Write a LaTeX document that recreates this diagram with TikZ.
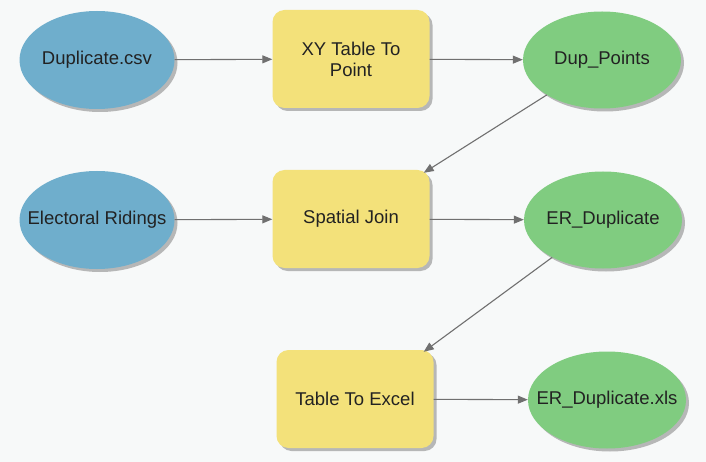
\documentclass[tikz,border=0pt]{standalone}
\usepackage{fontspec}
\setmainfont{Liberation Sans}
\usetikzlibrary{shadows,calc,arrows.meta,shapes.geometric}
\definecolor{bg}{HTML}{F7F9F9}
\definecolor{inblue}{HTML}{6FAECC}
\definecolor{outgreen}{HTML}{80CC80}
\definecolor{toolyellow}{HTML}{F3E17A}
\definecolor{conn}{HTML}{707070}
\definecolor{txt}{HTML}{222222}
\newcommand{\zw}[1]{\makebox[0pt][c]{#1}}
\tikzset{
  shadowed/.style={drop shadow={shadow xshift=3pt,shadow yshift=-3pt,fill=black!45,opacity=0.6}},
  inputnode/.style={ellipse,fill=inblue,minimum width=155pt,minimum height=98pt,inner sep=0pt,shadowed,text=txt,font=\fontsize{18.5}{21}\selectfont},
  outputnode/.style={ellipse,fill=outgreen,minimum width=158pt,minimum height=97pt,inner sep=0pt,shadowed,text=txt,font=\fontsize{18.5}{21}\selectfont},
  toolnode/.style={rectangle,rounded corners=12pt,fill=toolyellow,minimum width=157pt,minimum height=98pt,inner sep=0pt,shadowed,text=txt,align=center,font=\fontsize{18.5}{21}\selectfont},
  connector/.style={draw=conn,line width=1.1pt,-{Triangle[length=10pt,width=8pt]}}
}
\begin{document}
\begin{tikzpicture}[x=1pt,y=-1pt]
\fill[bg] (0,0) rectangle (706,462);
\useasboundingbox (0,0) rectangle (706,462);
\node[inputnode] (csv) at (97,60) {\zw{Duplicate.csv}};
\node[toolnode] (xy) at (351,59) {XY Table To\\Point};
\node[outputnode] (dup) at (602,60) {\zw{Dup\_Points}};
\node[inputnode] (er) at (97,220) {\zw{Electoral Ridings}};
\node[toolnode] (sj) at (351,219) {Spatial Join};
\node[outputnode] (erd) at (603,220) {\zw{ER\_Duplicate}};
\node[toolnode] (tte) at (355,399) {Table To Excel};
\node[outputnode] (xls) at (607,400) {\zw{ER\_Duplicate.xls}};
\coordinate (sjin) at ($(sj.north east)+(-6,3)$);
\coordinate (ttein) at ($(tte.north east)+(-10,2)$);
\draw[connector] (csv) -- (xy);
\draw[connector] (xy) -- (dup);
\draw[connector] (dup) -- (sjin);
\draw[connector] (er) -- (sj);
\draw[connector] (sj) -- (erd);
\draw[connector] (erd) -- (ttein);
\draw[connector] (tte) -- (xls);
\end{tikzpicture}
\end{document}
